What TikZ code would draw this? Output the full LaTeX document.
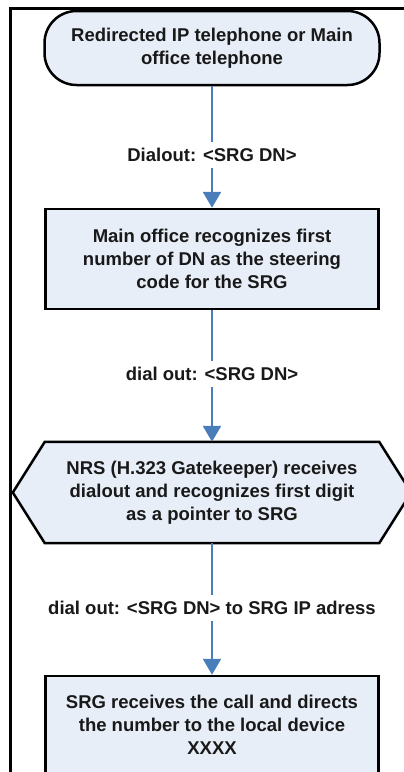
\documentclass[tikz,border=0pt]{standalone}
\usepackage{fontspec}
\setmainfont{Liberation Sans}
\usetikzlibrary{arrows.meta,backgrounds}
\definecolor{boxfill}{HTML}{E8EEF8}
\definecolor{flowblue}{HTML}{4A7EBB}

\begin{document}
\begin{tikzpicture}[x=1pt, y=-1pt,
        every node/.style={font=\bfseries\fontsize{18.5}{23}\selectfont, text=black!90, align=center},
        stepbox/.style={draw, line width=2.5pt, fill=boxfill, minimum width=333pt, inner sep=0pt},
        flowlabel/.style={fill=white, inner sep=6pt},
        flow/.style={draw=flowblue, line width=2.5pt, -{Triangle[width=18pt, length=16pt]}}]
        \useasboundingbox (0,0) rectangle (404,772);
        \draw[line width=3pt] (10.5,790) |- (420,8.5);
        \node[stepbox, rounded corners=32pt, minimum width=335pt, minimum height=74pt] (phone) at (212,48) {Redirected IP telephone or Main\\office telephone};
        \node[stepbox, minimum height=100pt] (recog) at (212,259) {Main office recognizes first\\number of DN as the steering\\code for the SRG};
        \node[minimum width=334pt, minimum height=101pt, inner sep=0pt] (nrs) at (212,492.5) {NRS (H.323 Gatekeeper) receives\\dialout and recognizes first digit\\as a pointer to SRG};
        \begin{scope}[on background layer]
            \draw[line width=2.5pt, fill=boxfill] (nrs.north west) -- (nrs.north east) -- ([xshift=32pt]nrs.east) -- (nrs.south east) -- (nrs.south west) -- ([xshift=-32pt]nrs.west) -- cycle;
        \end{scope}
        \node[stepbox, minimum height=98pt] (srg) at (212,725) {SRG receives the call and directs\\the number to the local device\\XXXX};
        \node[flowlabel] (dial1) at (212,155) {Dialout: <SRG DN>};
        \node[flowlabel] (dial2) at (212,374) {dial out: <SRG DN>};
        \node[flowlabel] (dial3) at (212,608) {dial out: <SRG DN> to SRG IP adress};
        \draw[flow] (phone) -- (dial1) -- (recog);
        \draw[flow] (recog) -- (dial2) -- (nrs);
        \draw[flow] (nrs) -- (dial3) -- (srg);
    \end{tikzpicture}
\end{document}
